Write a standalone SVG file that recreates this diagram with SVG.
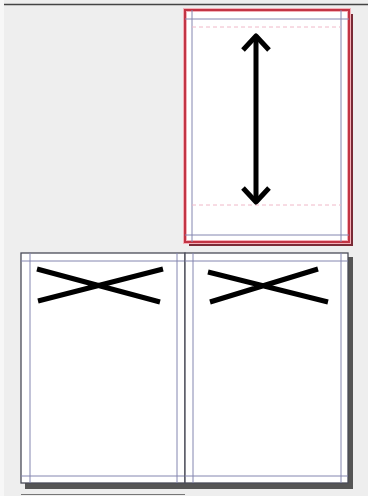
<svg xmlns="http://www.w3.org/2000/svg" width="368" height="496" viewBox="0 0 368 496">
<defs>
<style>
.page{fill:#ffffff;stroke:#4a4c58;stroke-width:1.3}
.shadow{fill:#555555}
.guide{stroke:#8486b0;stroke-width:1;fill:none}
.dash{stroke:#f0b8c8;stroke-width:1;stroke-dasharray:4 3;fill:none}
.mark{stroke:#000;stroke-width:5;fill:none;stroke-linecap:butt}
</style>
</defs>
<rect x="0" y="0" width="368" height="496" fill="#eeeeee"/>
<rect x="0" y="0" width="4" height="496" fill="#f7f7f7"/>
<line x1="4" y1="4.5" x2="368" y2="4.5" stroke="#444" stroke-width="1.5"/>

<g id="page-top">
<rect x="189" y="14" width="164" height="232" fill="#7a2a36"/>
<rect x="185" y="10" width="164" height="232" fill="#fff" stroke="#f4b0b8" stroke-width="4"/>
<rect x="185" y="10" width="164" height="232" fill="none" stroke="#c23444" stroke-width="2"/>
<line class="guide" x1="192" y1="10" x2="192" y2="242"/>
<line class="guide" x1="341" y1="10" x2="341" y2="242"/>
<line class="guide" x1="185" y1="19" x2="349" y2="19"/>
<line class="guide" x1="185" y1="235" x2="349" y2="235"/>
<line class="dash" x1="192" y1="27" x2="341" y2="27"/>
<line class="dash" x1="192" y1="205" x2="341" y2="205"/>
<path class="mark" d="M256 38 V202" stroke-width="5"/>
<path class="mark" d="M243 50 L256 36 L269 50" stroke-width="5.5" stroke-linejoin="round"/>
<path class="mark" d="M243 188 L256 202 L269 188" stroke-width="5.5" stroke-linejoin="round"/>
</g>

<g id="page-left">
<rect class="shadow" x="25" y="257" width="164" height="232"/>
<rect class="page" x="21" y="253" width="164" height="230"/>
<line class="guide" x1="30" y1="253" x2="30" y2="483"/>
<line class="guide" x1="177" y1="253" x2="177" y2="483"/>
<line class="guide" x1="21" y1="261" x2="185" y2="261"/>
<line class="guide" x1="21" y1="476" x2="185" y2="476"/>
<path class="mark" d="M37 269 L160 302 M38 301 L163 269"/>
</g>

<g id="page-right">
<rect class="shadow" x="189" y="257" width="164" height="232"/>
<rect class="page" x="185" y="253" width="163" height="230"/>
<line class="guide" x1="193" y1="253" x2="193" y2="483"/>
<line class="guide" x1="341" y1="253" x2="341" y2="483"/>
<line class="guide" x1="185" y1="261" x2="348" y2="261"/>
<line class="guide" x1="185" y1="476" x2="348" y2="476"/>
<path class="mark" d="M208 272 L328 302 M210 302 L318 269"/>
</g>

<g id="page-next">
<line x1="21" y1="494.5" x2="185" y2="494.5" stroke="#777" stroke-width="1"/>
</g>
<g id="connectors"></g>
</svg>
